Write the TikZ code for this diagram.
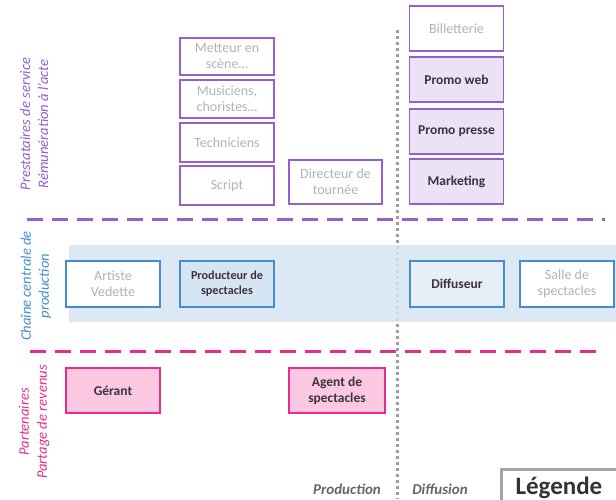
\documentclass[tikz,border=0pt]{standalone}
\usepackage{fontspec}
\setmainfont{Carlito}
\usepackage{tikz}
\usetikzlibrary{positioning}
\definecolor{violetc}{RGB}{150,95,205}
\definecolor{violetf}{RGB}{236,226,246}
\definecolor{rosec}{RGB}{230,45,140}
\definecolor{rosef}{RGB}{250,200,225}
\definecolor{bleuc}{RGB}{70,140,210}
\definecolor{bleuf}{RGB}{214,229,243}
\definecolor{texte}{RGB}{60,50,60}

\begin{document}
\begin{tikzpicture}[x=1pt,y=-1pt,
  boite/.style={draw,line width=1.4pt,minimum width=94pt,minimum height=39pt,
    align=center,inner sep=1pt,font=\fontsize{14}{16}\selectfont},
  pale/.style={boite,text=gray!60},
  fort/.style={boite,text=texte,font=\fontsize{13.5}{16}\selectfont\bfseries},
  presta/.style={draw=violetc},
  chaine/.style={draw=bleuc},
  parten/.style={draw=rosec},
  titre/.style={rotate=90,align=center,font=\fontsize{14.6}{18}\selectfont\itshape},
  pied/.style={gray!80!black,font=\fontsize{15}{16}\selectfont\bfseries\itshape}]
  \useasboundingbox (0,0) rectangle (616,499);
  % axe production / diffusion
  \coordinate (haut) at (397,30);
  \coordinate (bas) at (397,499);
  \draw[gray!75,line width=3pt,dash pattern=on 3pt off 3pt] (haut)--(bas);
  % bande centrale
  \fill[bleuf,fill opacity=0.85] (69,245) rectangle (616,322);
  % separations
  \coordinate (g1) at (27,219);
  \coordinate (d1) at (605,219);
  \coordinate (g2) at (30,351);
  \coordinate (d2) at (605,351);
  \draw[violetc,line width=3pt,dash pattern=on 16pt off 9pt] (g1)--(d1);
  \draw[rosec,line width=3pt,dash pattern=on 16pt off 9pt] (g2)--(d2);
  % prestataires
  \node[pale,presta,minimum height=37pt] (metteur) at (227,56.5) {Metteur en\\scène…};
  \node[pale,presta,minimum height=38pt] (musiciens) at (227,99) {Musiciens,\\choristes…};
  \node[pale,presta] (techniciens) at (227,142.5) {Techniciens};
  \node[pale,presta] (script) at (227,185.5) {Script};
  \node[pale,presta,minimum width=93pt,minimum height=44pt] (directeur) at (335.5,182) {Directeur de\\tournée};
  \node[pale,presta,fill=white,minimum height=45pt] (billetterie) at (456.5,28.5) {Billetterie};
  \node[fort,presta,fill=violetf,minimum height=45pt] (web) at (456.5,79.5) {Promo web};
  \node[fort,presta,fill=violetf,minimum height=45pt] (presse) at (456.5,131.5) {Promo presse};
  \node[fort,presta,fill=violetf,minimum height=45pt] (marketing) at (456.5,181.5) {Marketing};
  % chaine centrale
  \node[pale,chaine,fill=white,minimum height=46pt] (artiste) at (113,284) {Artiste\\Vedette};
  \node[fort,chaine,fill=bleuf,minimum height=46pt,font=\fontsize{12.2}{15}\selectfont\bfseries] (producteur) at (227,284) {Producteur de\\spectacles};
  \node[fort,chaine,fill=bleuf!60,minimum height=46pt] (diffuseur) at (457,284) {Diffuseur};
  \node[pale,chaine,fill=white,minimum height=46pt] (salle) at (567,284) {Salle de\\spectacles};
  % partenaires
  \node[fort,parten,fill=rosef,minimum height=45pt] (gerant) at (113,390.5) {Gérant};
  \node[fort,parten,fill=rosef,minimum width=96pt,minimum height=45pt] (agent) at (337,390.5) {Agent de\\spectacles};
  % titres
  \node[titre,violetc] (t1) at (34,124) {Prestataires de service\\Rémunération à l'acte};
  \node[titre,bleuc] (t2) at (36,286) {Chaîne centrale de\\production};
  \node[titre,rosec] (t3) at (34,422) {Partenaires\\Partage de revenus};
  % bas
  \node[pied] (prod) at (347,489) {Production};
  \node[pied] (diff) at (440,489) {Diffusion};
  \begin{scope}
    \clip (0,0) rectangle (616,499);
    \draw[gray!70,line width=3pt] (501,510) -- (501,469) -- (625,469);
    \node[anchor=base west,text=black!80,font=\fontsize{25}{28}\selectfont\bfseries] (legende) at (512,494) {Légende};
  \end{scope}
\end{tikzpicture}
\end{document}
